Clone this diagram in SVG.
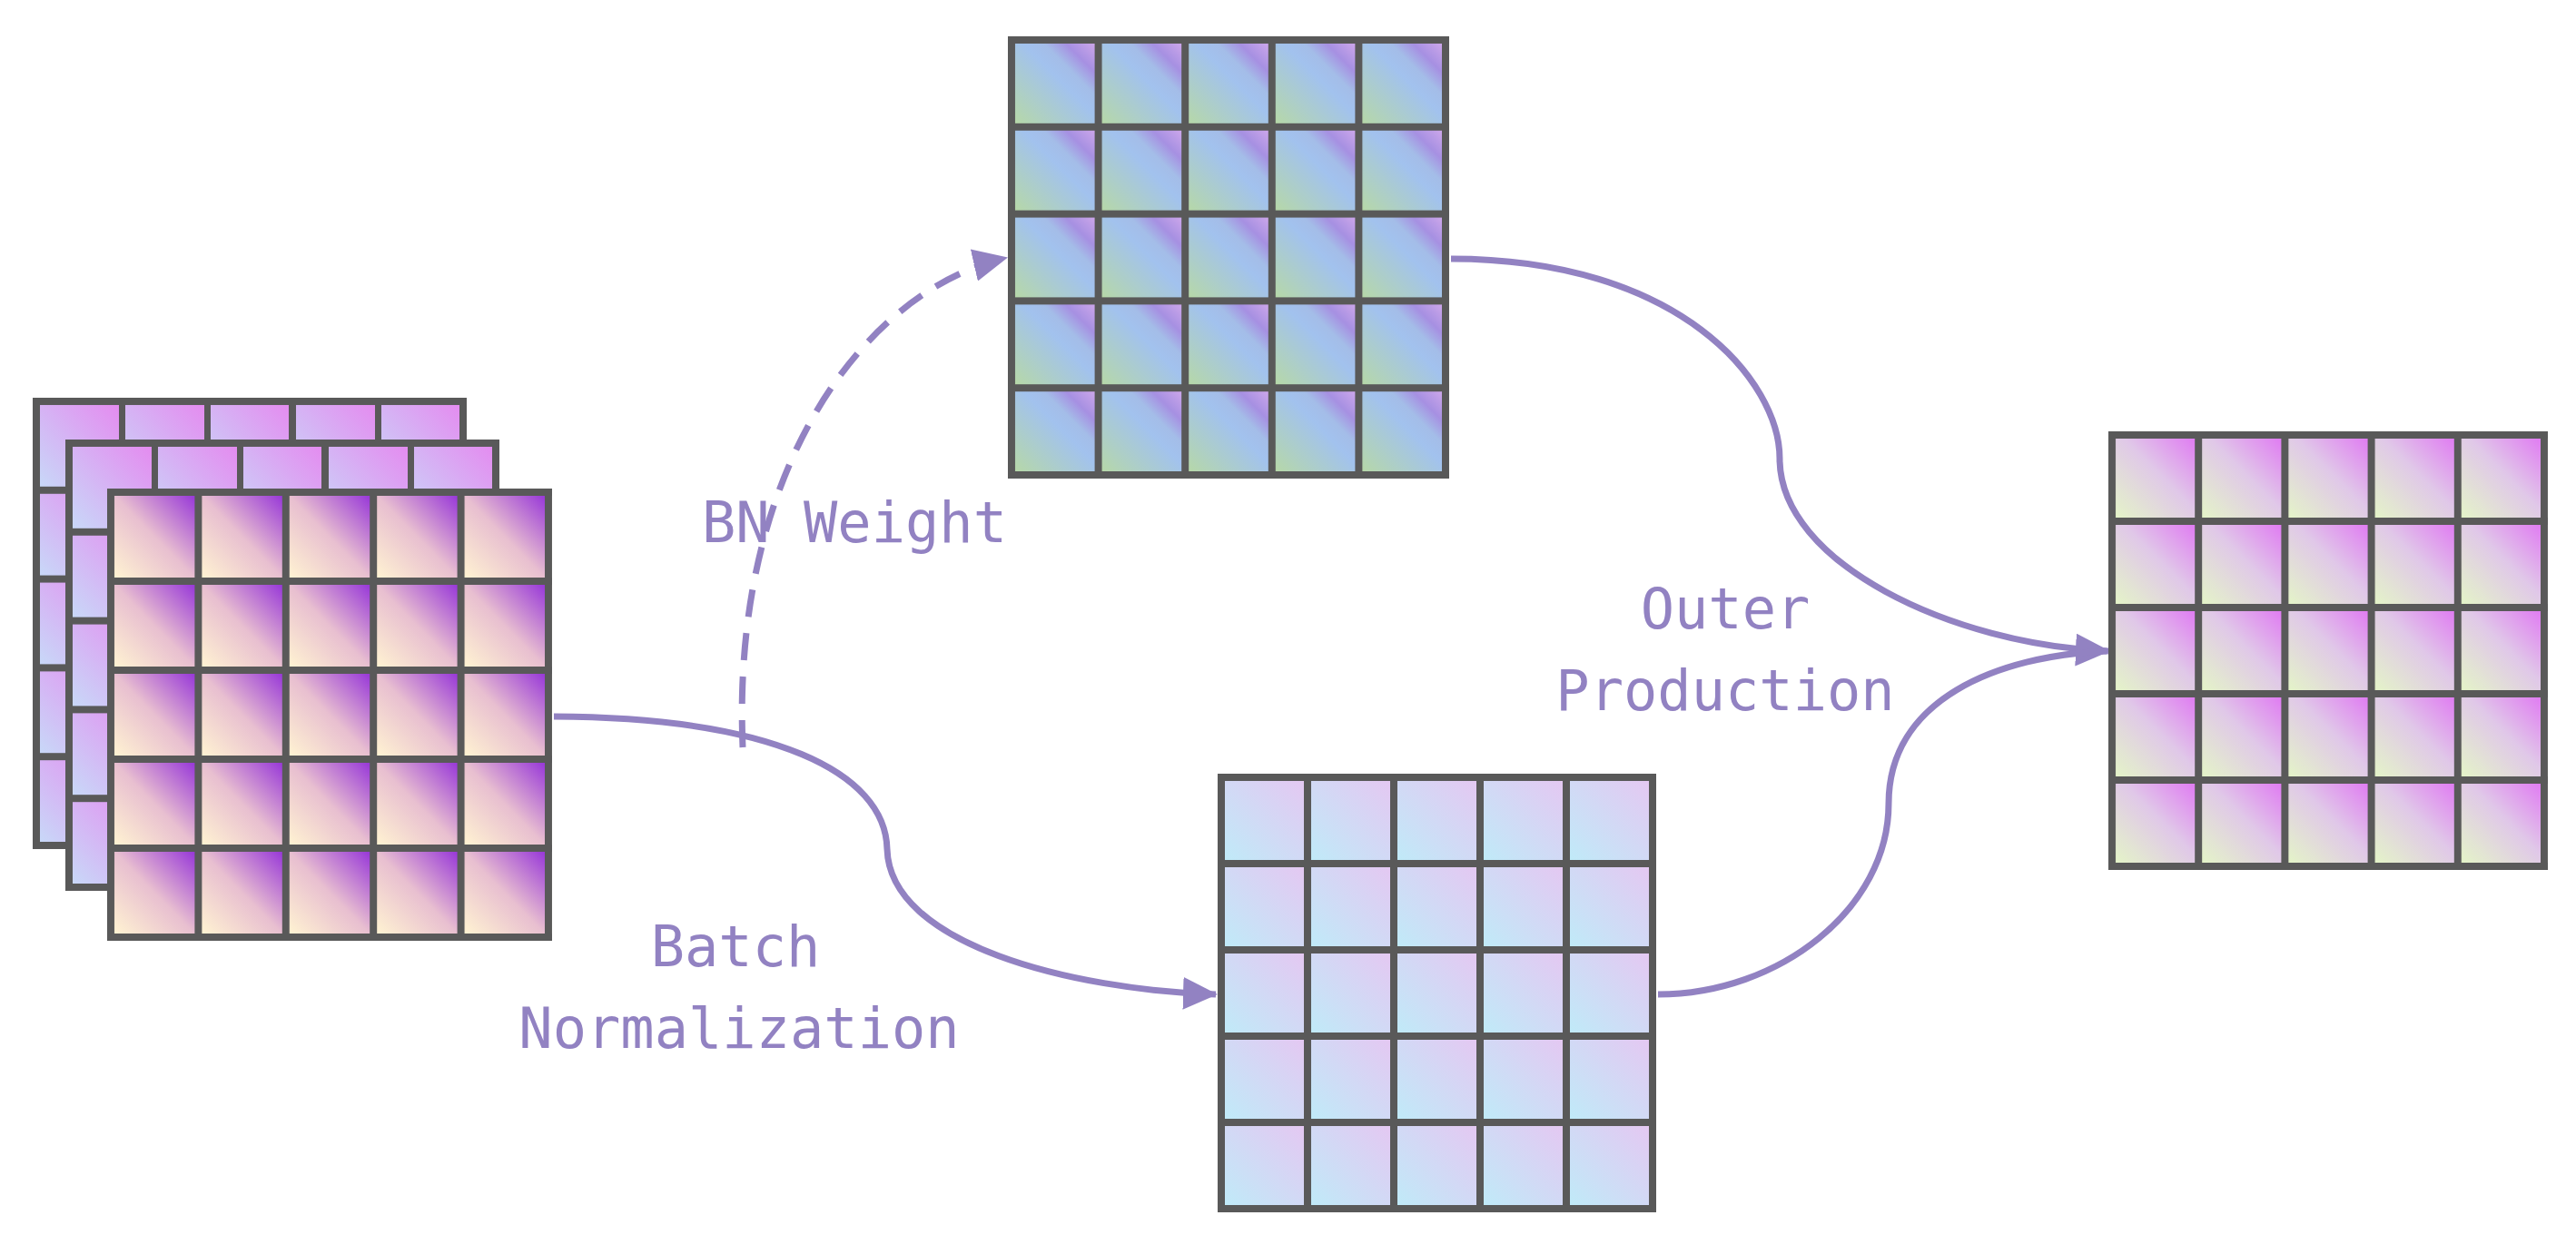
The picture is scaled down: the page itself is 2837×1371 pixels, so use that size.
<svg xmlns="http://www.w3.org/2000/svg" width="2837" height="1371" viewBox="0 0 2837 1371">
<style>
.lbl{font-family:"DejaVu Sans Mono","Liberation Mono",monospace;font-size:62px;fill:#9282c2;text-anchor:middle}
.con{fill:none;stroke:#9282c2;stroke-width:7}
</style>
<defs>
<linearGradient id="gF" x1="0" y1="1" x2="1" y2="0"><stop offset="0" stop-color="#fff3d2"/><stop offset="0.5" stop-color="#e8bfd0"/><stop offset="1" stop-color="#9838d8"/></linearGradient>
<linearGradient id="gB" x1="0" y1="1" x2="1" y2="0"><stop offset="0" stop-color="#c8d8f8"/><stop offset="1" stop-color="#e48cf0"/></linearGradient>
<linearGradient id="gT" x1="0" y1="1" x2="1" y2="0"><stop offset="0" stop-color="#b6d8a8"/><stop offset="0.55" stop-color="#a2c2ee"/><stop offset="0.68" stop-color="#a4bde8"/><stop offset="0.82" stop-color="#a690e2"/><stop offset="1" stop-color="#cca6ea"/></linearGradient>
<linearGradient id="gL" x1="0" y1="1" x2="1" y2="0"><stop offset="0" stop-color="#c0eaf8"/><stop offset="1" stop-color="#e4c8f2"/></linearGradient>
<linearGradient id="gR" x1="0" y1="1" x2="1" y2="0"><stop offset="0" stop-color="#e4f4c8"/><stop offset="0.55" stop-color="#e0c8e8"/><stop offset="1" stop-color="#e07cf2"/></linearGradient>
<pattern id="p1" patternUnits="userSpaceOnUse" x="36" y="438" width="94" height="97.8"><rect width="94" height="97.8" fill="#595959"/><rect x="8" y="8" width="86" height="89.8" fill="url(#gB)"/></pattern>
<pattern id="p2" patternUnits="userSpaceOnUse" x="72" y="484" width="94" height="97.8"><rect width="94" height="97.8" fill="#595959"/><rect x="8" y="8" width="86" height="89.8" fill="url(#gB)"/></pattern>
<pattern id="pF" patternUnits="userSpaceOnUse" x="118" y="538" width="96.4" height="98"><rect width="96.4" height="98" fill="#595959"/><rect x="8" y="8" width="88.4" height="90" fill="url(#gF)"/></pattern>
<pattern id="pT" patternUnits="userSpaceOnUse" x="1110" y="40" width="95.6" height="95.8"><rect width="95.6" height="95.8" fill="#595959"/><rect x="8" y="8" width="87.6" height="87.8" fill="url(#gT)"/></pattern>
<pattern id="pL" patternUnits="userSpaceOnUse" x="1341" y="852" width="95" height="95"><rect width="95" height="95" fill="#595959"/><rect x="8" y="8" width="87" height="87" fill="url(#gL)"/></pattern>
<pattern id="pR" patternUnits="userSpaceOnUse" x="2322" y="475" width="95.2" height="95"><rect width="95.2" height="95" fill="#595959"/><rect x="8" y="8" width="87.2" height="87" fill="url(#gR)"/></pattern>
<marker id="ah" markerUnits="userSpaceOnUse" markerWidth="40" markerHeight="36" refX="36" refY="18" orient="auto"><path d="M0,0 L38,18 L0,36 Z" fill="#9282c2"/></marker>
</defs>
<g id="connectors">
<path class="con" d="M610 789 C 850 790, 975 850, 977 935 C 980 1040, 1180 1090, 1339 1095" marker-end="url(#ah)"/>
<path class="con" d="M818 823 C 805 520, 950 320, 1108 284" stroke-dasharray="30 18" marker-end="url(#ah)"/>
<path class="con" d="M1598 285 C 1850 285, 1960 420, 1960 505 C 1960 620, 2150 710, 2322 717" marker-end="url(#ah)"/>
<path class="con" d="M1826 1095 C 1960 1095, 2080 1000, 2080 885 C 2080 770, 2200 722, 2320 717"/>
</g>
<g id="input-stack">
<rect x="36" y="438" width="478" height="497" fill="url(#p1)"/>
<rect x="72" y="484" width="478" height="497" fill="url(#p2)"/>
<rect x="118" y="538" width="490" height="498" fill="url(#pF)"/>
</g>
<g id="bn-weight"><rect x="1110" y="40" width="486" height="487" fill="url(#pT)"/></g>
<g id="bn-output"><rect x="1341" y="852" width="483" height="483" fill="url(#pL)"/></g>
<g id="result"><rect x="2322" y="475" width="484" height="483" fill="url(#pR)"/></g>
<g id="labels">
<text class="lbl" x="941" y="597">BN Weight</text>
<text class="lbl" x="810" y="1064">Batch</text>
<text class="lbl" x="814" y="1154">Normalization</text>
<text class="lbl" x="1900" y="692">Outer</text>
<text class="lbl" x="1900" y="782">Production</text>
</g>
</svg>
